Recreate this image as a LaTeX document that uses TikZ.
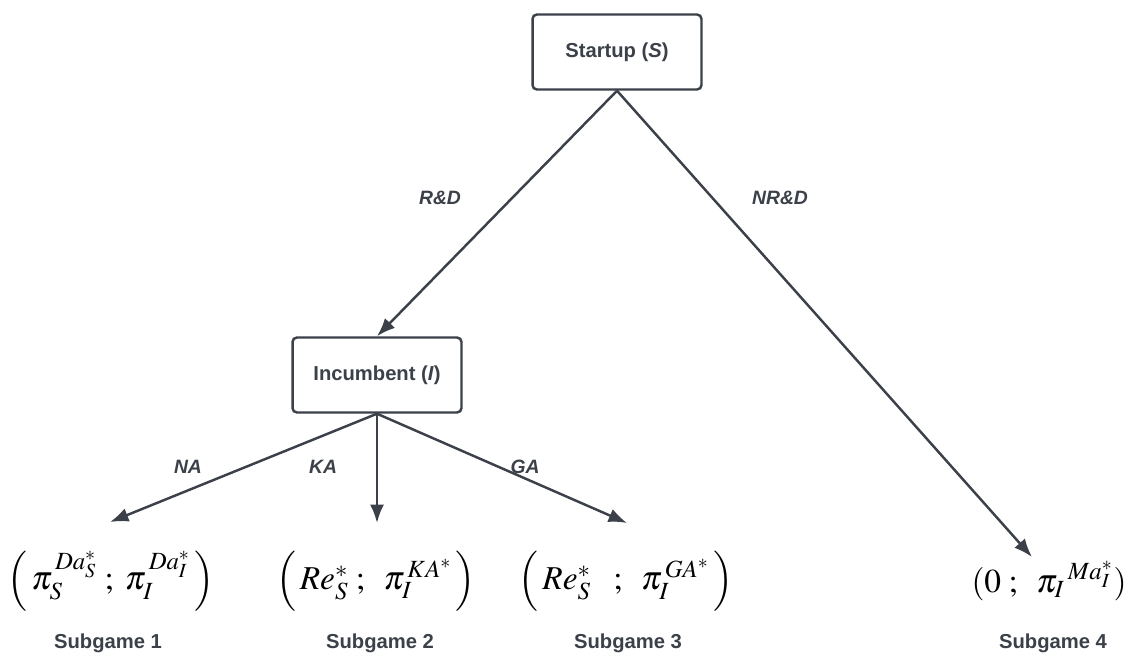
\documentclass[tikz,border=0pt]{standalone}
\usepackage{mathptmx}
\usepackage{fontspec}
\newfontfamily\labelfont{Liberation Sans}
\usetikzlibrary{arrows.meta}
\definecolor{ink}{HTML}{3B4049}
\newcommand{\payhigh}{\vphantom{\pi_S^{\,Da_S^*}}}

\begin{document}
\begin{tikzpicture}[x=0.02cm,y=-0.02cm,
			player/.style={draw=ink, line width=1.4pt, rounded corners=2.5pt, fill=white, minimum width=3.38cm, minimum height=1.5cm, text=ink, font=\labelfont\bfseries\fontsize{11.5}{13}\selectfont},
			move/.style={draw=ink, line width=1.4pt, -{Latex[length=10.5pt,width=8pt]}},
			movelabel/.style={text=ink, font=\labelfont\bfseries\itshape\fontsize{11}{13}\selectfont},
			payoff/.style={inner sep=0pt, font=\fontsize{19}{22}\selectfont},
			subgame/.style={text=ink, font=\labelfont\bfseries\fontsize{11.5}{13}\selectfont}]
			\useasboundingbox (0,0) rectangle (1132,655);
			\node[player](startup) at (617,52){Startup (\textit{S})};
			\node[player](incumbent) at (377,375){Incumbent (\textit{I})};
			\coordinate (nrd) at (1032,557);
			\coordinate (na) at (110,522);
			\coordinate (ka) at (377,523);
			\coordinate (ga) at (627,523);
			\path[move] (startup.south) -- (incumbent.north);
			\path[move] (startup.south) -- (nrd);
			\path[move] (incumbent.south) -- (na);
			\path[move] (incumbent.south) -- (ka);
			\path[move] (incumbent.south) -- (ga);
			% move labels
			\node[movelabel](rdlabel) at (440,198){R\&D};
			\node[movelabel](nrdlabel) at (780,198){NR\&D};
			\node[movelabel](nalabel) at (188,467){NA};
			\node[movelabel](kalabel) at (323,467){KA};
			\node[movelabel](galabel) at (525,467){GA};
			% payoffs
			\node[payoff](pay1) at (111,581){$\left(\,\pi_S^{\,Da_S^*}\;;\;\pi_I^{\,Da_I^*}\,\right)$};
			\node[payoff](pay2) at (376,581){$\left(\,\payhigh Re_S^*\;;\;\;\pi_I^{\,KA^*}\,\right)$};
			\node[payoff](pay3) at (626,581){$\left(\,\payhigh Re_S^*\;\;\;;\;\;\pi_I^{\,GA^*}\,\right)$};
			\node[payoff](pay4) at (1049,581){$(0\;;\;\;{\pi_I}^{\,Ma_I^*})$};
			\node[subgame](sub1) at (108,643){Subgame 1};
			\node[subgame](sub2) at (380,643){Subgame 2};
			\node[subgame](sub3) at (628,643){Subgame 3};
			\node[subgame](sub4) at (1053,643){Subgame 4};
	\end{tikzpicture}
\end{document}
